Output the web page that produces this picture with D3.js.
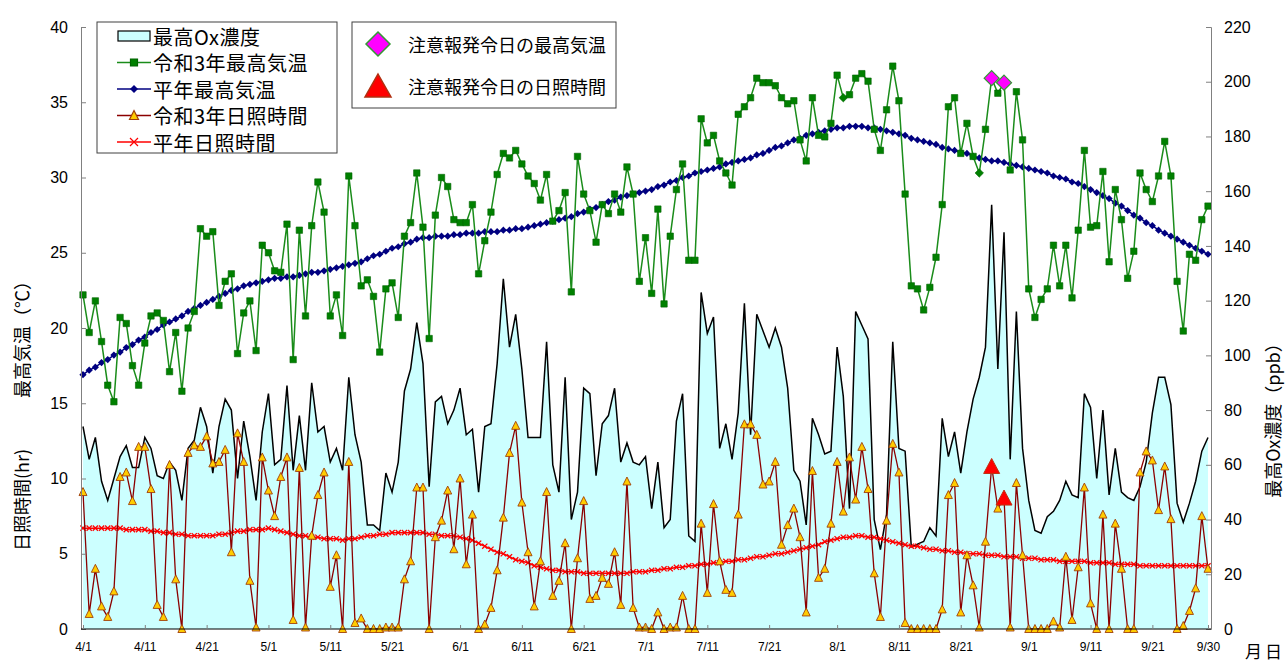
<!DOCTYPE html>
<html>
<head>
<meta charset="utf-8">
<script src="https://cdn.jsdelivr.net/npm/d3@7"></script>
<style>
  body { margin: 0; background: #fff; }
  text { font-family: "Liberation Sans", Arial, sans-serif; fill: #000; }
  .jp { font-family: "Noto Sans CJK JP", sans-serif; }
</style>
</head>
<body>
<div id="chart"></div>
<script>
// 4/1 .. 9/30 (183 days)
const dates = d3.timeDay.range(new Date(2021, 3, 1), new Date(2021, 9, 1));
const tickDays = [0, 10, 20, 30, 40, 50, 61, 71, 81, 91, 101, 111, 122, 132, 142, 153, 163, 173, 182];
const tickLabels = ['4/1', '4/11', '4/21', '5/1', '5/11', '5/21', '6/1', '6/11', '6/21', '7/1',
    '7/11', '7/21', '8/1', '8/11', '8/21', '9/1', '9/11', '9/21', '9/30'];

// 最高Ox濃度 (ppb)
const oxMax = [
    74, 62, 70, 54, 47, 55, 63, 67, 59, 59,
    70, 66, 56, 55, 61, 58, 47, 66, 69, 81,
    74, 57, 74, 84, 80, 55, 76, 63, 47, 72,
    86, 60, 62, 89, 58, 78, 58, 90, 72, 74,
    61, 66, 58, 92, 71, 61, 38, 38, 36, 57,
    50, 61, 87, 95, 112, 97, 52, 83, 85, 75,
    80, 88, 71, 73, 50, 74, 75, 97, 128, 103,
    115, 95, 70, 70, 70, 105, 60, 50, 92, 40,
    50, 88, 86, 56, 75, 78, 88, 61, 68, 61,
    60, 63, 44, 61, 37, 40, 76, 86, 34, 32,
    123, 108, 114, 66, 75, 62, 79, 119, 71, 115,
    109, 103, 110, 103, 88, 58, 54, 38, 77, 71,
    64, 65, 103, 85, 44, 116, 111, 106, 40, 29,
    42, 105, 66, 65, 30, 31, 32, 37, 34, 77,
    63, 72, 57, 72, 84, 92, 103, 155, 95, 145,
    62, 116, 66, 47, 36, 35, 41, 43, 47, 54,
    49, 48, 86, 81, 55, 80, 49, 66, 50, 48,
    47, 52, 61, 79, 92, 92, 82, 46, 39, 46,
    54, 65, 70
];

// 令和3年最高気温 (℃)
const temp2021 = [
    22.2, 19.7, 21.8, 19.1, 16.2, 15.1, 20.7, 20.3, 17.5, 16.2,
    19.0, 20.8, 21.0, 20.5, 17.1, 19.7, 15.8, 20.0, 21.1, 26.6,
    26.1, 26.4, 21.5, 23.1, 23.6, 18.3, 21.0, 21.8, 18.5, 25.5,
    25.0, 23.8, 23.7, 26.9, 17.9, 26.5, 20.8, 26.8, 29.7, 27.7,
    20.8, 22.2, 19.5, 30.1, 26.8, 22.8, 23.2, 22.1, 18.4, 22.6,
    23.0, 20.7, 26.1, 27.0, 30.3, 26.7, 19.3, 27.5, 30.0, 29.4,
    27.2, 27.0, 27.0, 28.2, 23.6, 25.8, 27.7, 30.2, 31.6, 31.3,
    31.8, 30.9, 30.1, 29.6, 28.5, 30.2, 27.1, 27.8, 29.0, 22.4,
    31.4, 28.9, 27.8, 25.7, 28.2, 27.6, 28.9, 27.7, 30.7, 28.9,
    23.1, 26.0, 22.3, 27.9, 21.6, 26.1, 29.2, 30.9, 24.5, 24.5,
    33.9, 32.3, 32.8, 31.1, 30.3, 29.5, 34.2, 34.7, 35.3, 36.6,
    36.3, 36.3, 36.1, 35.3, 34.9, 35.1, 32.5, 31.1, 35.3, 32.8,
    32.7, 33.6, 36.8, 35.3, 35.5, 36.6, 36.9, 36.4, 33.2, 31.8,
    34.5, 37.4, 35.1, 28.9, 22.8, 22.6, 21.2, 22.7, 24.7, 28.2,
    34.7, 35.3, 31.6, 33.6, 31.4, 30.3, 33.2, 36.6, 35.6, 36.3,
    30.5, 35.7, 32.5, 22.6, 20.7, 21.9, 22.6, 25.5, 22.8, 25.5,
    22.0, 26.5, 31.8, 26.7, 26.8, 30.4, 24.4, 29.2, 27.2, 23.3,
    25.1, 30.3, 29.2, 28.4, 30.1, 32.4, 30.1, 23.1, 19.8, 24.9,
    24.5, 27.2, 28.1
];

// 平年最高気温 (℃)
const tempNormal = [
    16.9, 17.2, 17.4, 17.7, 17.9, 18.2, 18.4, 18.7, 18.9, 19.2,
    19.4, 19.7, 19.9, 20.2, 20.4, 20.6, 20.8, 21.1, 21.3, 21.5,
    21.7, 21.9, 22.1, 22.3, 22.5, 22.6, 22.8, 22.9, 23.0, 23.1,
    23.2, 23.3, 23.3, 23.4, 23.4, 23.5, 23.6, 23.7, 23.7, 23.8,
    23.9, 24.0, 24.1, 24.2, 24.3, 24.4, 24.6, 24.8, 24.9, 25.1,
    25.3, 25.4, 25.6, 25.7, 25.9, 26.0, 26.0, 26.1, 26.1, 26.1,
    26.2, 26.2, 26.3, 26.3, 26.3, 26.4, 26.4, 26.4, 26.5, 26.5,
    26.6, 26.6, 26.7, 26.8, 26.9, 27.0, 27.1, 27.2, 27.3, 27.4,
    27.6, 27.7, 27.9, 28.0, 28.2, 28.4, 28.5, 28.7, 28.8, 28.9,
    29.0, 29.1, 29.2, 29.4, 29.5, 29.7, 29.8, 30.0, 30.1, 30.3,
    30.4, 30.5, 30.6, 30.7, 30.9, 31.0, 31.1, 31.2, 31.3, 31.5,
    31.6, 31.8, 32.0, 32.1, 32.3, 32.5, 32.6, 32.8, 32.9, 33.0,
    33.1, 33.2, 33.3, 33.3, 33.4, 33.4, 33.4, 33.3, 33.3, 33.2,
    33.1, 33.0, 32.9, 32.8, 32.6, 32.5, 32.4, 32.3, 32.2, 32.0,
    31.9, 31.8, 31.7, 31.6, 31.4, 31.3, 31.2, 31.1, 31.1, 31.0,
    30.9, 30.8, 30.7, 30.6, 30.5, 30.4, 30.3, 30.1, 30.0, 29.9,
    29.7, 29.6, 29.4, 29.2, 29.0, 28.8, 28.6, 28.3, 28.1, 27.8,
    27.5, 27.3, 27.0, 26.8, 26.5, 26.3, 26.1, 25.9, 25.7, 25.5,
    25.3, 25.1, 24.9
];

// 令和3年日照時間 (hr)
const sun2021 = [
    9.1, 1.0, 4.0, 1.5, 0.8, 2.5, 10.1, 10.4, 8.5, 12.1,
    12.1, 9.3, 1.6, 0.8, 10.9, 3.3, 0, 11.7, 12.2, 12.1,
    12.8, 11.0, 11.1, 11.9, 5.1, 13.0, 11.1, 3.2, 0.1, 11.4,
    9.2, 7.5, 10.1, 11.4, 0.6, 10.7, 0.1, 6.2, 8.9, 10.4,
    2.8, 4.9, 0, 11.1, 0.4, 0.7, 0, 0, 0, 0.1,
    0.1, 0.1, 3.3, 4.5, 9.4, 9.4, 0, 6.1, 7.2, 9.2,
    5.3, 10.0, 4.3, 7.6, 0, 0.3, 1.4, 3.9, 7.4, 11.7,
    13.5, 8.4, 5.1, 1.5, 4.5, 9.1, 2.2, 3.2, 5.7, 0,
    4.7, 8.5, 2.0, 2.2, 3.4, 3.0, 5.1, 1.6, 9.8, 1.4,
    0.1, 0.1, 0, 1.1, 0, 0.1, 0.1, 2.2, 0, 0,
    7.0, 2.4, 8.3, 4.5, 2.6, 2.4, 7.6, 13.6, 13.6, 12.9,
    9.6, 9.8, 11.1, 5.6, 6.9, 8.0, 6.1, 1.1, 10.5, 3.4,
    4.0, 7.0, 11.1, 7.8, 11.4, 8.6, 12.1, 9.3, 3.7, 0.8,
    7.2, 12.3, 10.4, 0.4, 0, 0, 0, 0, 0, 1.3,
    8.9, 9.7, 1.1, 4.9, 2.9, 0.1, 5.8, 10.8, 8.0, 8.7,
    0.1, 9.7, 4.9, 0, 0, 0, 0, 0.5, 0.1, 4.8,
    0.6, 4.1, 9.4, 1.7, 0, 7.6, 0, 7.0, 4.0, 0,
    0, 10.4, 11.8, 11.2, 7.9, 10.8, 7.3, 0, 0.2, 1.2,
    2.7, 7.5, 4.0
];

// 平年日照時間 (hr)
const sunNormal = [
    6.7, 6.7, 6.7, 6.7, 6.7, 6.7, 6.7, 6.6, 6.6, 6.6,
    6.6, 6.5, 6.5, 6.4, 6.4, 6.3, 6.3, 6.2, 6.2, 6.2,
    6.2, 6.2, 6.3, 6.3, 6.4, 6.5, 6.5, 6.6, 6.6, 6.6,
    6.7, 6.6, 6.5, 6.4, 6.3, 6.2, 6.2, 6.1, 6.1, 6.0,
    6.0, 6.0, 5.9, 6.0, 6.0, 6.1, 6.2, 6.2, 6.3, 6.3,
    6.4, 6.4, 6.4, 6.4, 6.4, 6.4, 6.3, 6.3, 6.2, 6.2,
    6.2, 6.1, 6.0, 5.9, 5.7, 5.5, 5.3, 5.1, 5.0, 4.8,
    4.6, 4.5, 4.4, 4.2, 4.1, 4.0, 3.9, 3.9, 3.8, 3.8,
    3.8, 3.7, 3.7, 3.7, 3.7, 3.7, 3.7, 3.7, 3.7, 3.8,
    3.8, 3.8, 3.9, 3.9, 4.0, 4.0, 4.1, 4.1, 4.2, 4.2,
    4.3, 4.3, 4.4, 4.4, 4.5, 4.5, 4.6, 4.6, 4.7, 4.8,
    4.8, 4.9, 5.0, 5.0, 5.1, 5.2, 5.3, 5.4, 5.5, 5.6,
    5.8, 5.9, 6.0, 6.1, 6.1, 6.2, 6.2, 6.1, 6.1, 6.0,
    5.9, 5.8, 5.7, 5.6, 5.5, 5.5, 5.4, 5.3, 5.3, 5.2,
    5.2, 5.1, 5.1, 5.0, 5.0, 5.0, 4.9, 4.9, 4.9, 4.8,
    4.8, 4.8, 4.7, 4.7, 4.7, 4.6, 4.6, 4.6, 4.5, 4.5,
    4.5, 4.5, 4.5, 4.4, 4.4, 4.4, 4.4, 4.3, 4.3, 4.3,
    4.3, 4.2, 4.2, 4.2, 4.2, 4.2, 4.2, 4.2, 4.2, 4.2,
    4.2, 4.2, 4.2
];

// 注意報発令日 (day index)
const alertDays = [147, 149];
const greenDiamondDays = [123, 145];

const width = 1287, height = 664;

const svg = d3.select('#chart')
    .append('svg')
    .attr('width', width)
    .attr('height', height);

const x = d3.scaleLinear().domain([0, dates.length - 1]).range([83, 1208]);
const yL = d3.scaleLinear().domain([0, 40]).range([629, 27]);
const yR = d3.scaleLinear().domain([0, 220]).range([629, 27]);

// marker shapes
const diamond = (r) => `M0,${-r}L${r},0L0,${r}L${-r},0Z`;
const triangle = (w, h) => `M0,${-h / 2 - 1}L${w / 2},${h / 2}L${-w / 2},${h / 2}Z`;
const cross = (r) => `M${-r},${-r}L${r},${r}M${-r},${r}L${r},${-r}`;

// Ox area
const area = d3.area()
    .x((d, i) => x(i))
    .y0(yR(0))
    .y1(d => yR(d));
svg.append('path')
    .datum(oxMax)
    .attr('d', area)
    .attr('fill', '#ccffff');
svg.append('path')
    .datum(oxMax)
    .attr('d', d3.line().x((d, i) => x(i)).y(d => yR(d)))
    .attr('fill', 'none')
    .attr('stroke', '#000')
    .attr('stroke-width', 1.5);

const lineL = d3.line().x((d, i) => x(i)).y(d => yL(d));

// 平年日照時間
svg.append('path').datum(sunNormal).attr('d', lineL)
    .attr('fill', 'none').attr('stroke', '#ff0000').attr('stroke-width', 1.5);
svg.append('g').selectAll('path').data(sunNormal).enter().append('path')
    .attr('d', cross(2.6))
    .attr('transform', (d, i) => `translate(${x(i)},${yL(d)})`)
    .attr('stroke', '#ff0000').attr('stroke-width', 1.3).attr('fill', 'none');

// 令和3年日照時間
svg.append('path').datum(sun2021).attr('d', lineL)
    .attr('fill', 'none').attr('stroke', '#8b0000').attr('stroke-width', 1.3);
svg.append('g').selectAll('path').data(sun2021).enter().append('path')
    .attr('d', triangle(8, 7))
    .attr('transform', (d, i) => `translate(${x(i)},${yL(d)})`)
    .attr('fill', '#ffcc00').attr('stroke', '#a0400a').attr('stroke-width', 0.9);

// 平年最高気温
svg.append('path').datum(tempNormal).attr('d', lineL)
    .attr('fill', 'none').attr('stroke', '#000080').attr('stroke-width', 1.5);
svg.append('g').selectAll('path').data(tempNormal).enter().append('path')
    .attr('d', diamond(3.6))
    .attr('transform', (d, i) => `translate(${x(i)},${yL(d)})`)
    .attr('fill', '#000080');

// 令和3年最高気温
svg.append('path').datum(temp2021).attr('d', lineL)
    .attr('fill', 'none').attr('stroke', '#1a8c1a').attr('stroke-width', 1.5);
svg.append('g').selectAll('path').data(temp2021).enter().append('path')
    .attr('d', (d, i) => greenDiamondDays.includes(i)
        ? diamond(4.2)
        : 'M-3.2,-3.2H3.2V3.2H-3.2Z')
    .attr('transform', (d, i) => `translate(${x(i)},${yL(d)})`)
    .attr('fill', '#008000').attr('stroke', '#006400').attr('stroke-width', 0.6);

// 注意報発令日
svg.append('g').selectAll('path').data(alertDays).enter().append('path')
    .attr('d', diamond(7.5))
    .attr('transform', d => `translate(${x(d)},${yL(temp2021[d])})`)
    .attr('fill', '#ff00ff').attr('stroke', '#339933').attr('stroke-width', 1.2);
svg.append('g').selectAll('path').data(alertDays).enter().append('path')
    .attr('d', triangle(16, 14))
    .attr('transform', d => `translate(${x(d)},${yL(sun2021[d])})`)
    .attr('fill', '#ff0000').attr('stroke', '#c03010').attr('stroke-width', 1);

// axes
const leftAxis = svg.append('g')
    .attr('transform', 'translate(81,0)')
    .call(d3.axisLeft(yL).tickValues(d3.range(0, 41, 5)).tickSize(-5).tickPadding(13));
const rightAxis = svg.append('g')
    .attr('transform', 'translate(1211,0)')
    .call(d3.axisRight(yR).tickValues(d3.range(0, 221, 20)).tickSize(-5).tickPadding(13));
[leftAxis, rightAxis].forEach(g => {
    g.select('.domain').attr('stroke', '#808080');
    g.selectAll('.tick line').attr('stroke', '#808080');
    g.selectAll('text').style('font-size', '16px').attr('fill', '#111');
});

const bottomAxis = svg.append('g')
    .attr('transform', 'translate(0,629)')
    .call(d3.axisBottom(x).tickValues(tickDays)
        .tickFormat((d, i) => tickLabels[i]).tickSize(-4).tickPadding(13));
bottomAxis.select('.domain').attr('d', 'M81,0H1211').attr('stroke', '#000').attr('stroke-width', 1.2);
bottomAxis.selectAll('.tick line').attr('stroke', '#808080');
bottomAxis.selectAll('text').style('font-size', '12px').attr('fill', '#444');

// axis titles
svg.append('text').attr('class', 'jp')
    .attr('transform', 'translate(21,335) rotate(-90)')
    .attr('text-anchor', 'middle').attr('dominant-baseline', 'central')
    .style('font-size', '18px').text('最高気温（℃）');
svg.append('text').attr('class', 'jp')
    .attr('transform', 'translate(21,500) rotate(-90)')
    .attr('text-anchor', 'middle').attr('dominant-baseline', 'central')
    .style('font-size', '18px').text('日照時間(hr)');
svg.append('text').attr('class', 'jp')
    .attr('transform', 'translate(1272,416) rotate(-90)')
    .attr('text-anchor', 'middle').attr('dominant-baseline', 'central')
    .style('font-size', '18px').text('最高Ox濃度（ppb）');
svg.append('text').attr('class', 'jp')
    .attr('x', 1265).attr('y', 650).attr('text-anchor', 'middle')
    .attr('dominant-baseline', 'central')
    .style('font-size', '17px').style('letter-spacing', '3px').text('月日');

// legend 1
const legend1 = svg.append('g');
legend1.append('rect')
    .attr('x', 97).attr('y', 22).attr('width', 240).attr('height', 131)
    .attr('fill', '#fff').attr('stroke', '#404040').attr('stroke-width', 1);
const legItems = [
    { label: '最高Ox濃度', type: 'area' },
    { label: '令和3年最高気温', type: 'line', color: '#1a8c1a', marker: 'M-3.5,-3.5H3.5V3.5H-3.5Z', mfill: '#008000', mstroke: '#006400' },
    { label: '平年最高気温', type: 'line', color: '#000080', marker: diamond(4), mfill: '#000080', mstroke: 'none' },
    { label: '令和3年日照時間', type: 'line', color: '#8b0000', marker: triangle(9, 8), mfill: '#ffcc00', mstroke: '#a0400a' },
    { label: '平年日照時間', type: 'line', color: '#ff0000', marker: cross(4), mfill: 'none', mstroke: '#ff0000' }
];
const leg = legend1.selectAll('g.item').data(legItems).enter().append('g')
    .attr('class', 'item')
    .attr('transform', (d, i) => `translate(0,${36 + i * 26.5})`);
leg.filter(d => d.type === 'area').append('rect')
    .attr('x', 118).attr('y', -5).attr('width', 32).attr('height', 10)
    .attr('fill', '#ccffff').attr('stroke', '#000').attr('stroke-width', 1.2);
leg.filter(d => d.type === 'line').append('line')
    .attr('x1', 117).attr('x2', 151).attr('y1', 0).attr('y2', 0)
    .attr('stroke', d => d.color).attr('stroke-width', 1.5);
leg.filter(d => d.type === 'line').append('path')
    .attr('d', d => d.marker)
    .attr('transform', 'translate(134,0)')
    .attr('fill', d => d.mfill).attr('stroke', d => d.mstroke).attr('stroke-width', 1.2);
leg.append('text').attr('class', 'jp')
    .attr('x', 153).attr('y', 0).attr('dominant-baseline', 'central')
    .style('font-size', '20px').style('letter-spacing', '0.5px').text(d => d.label);

// legend 2
const legend2 = svg.append('g');
legend2.append('rect')
    .attr('x', 352).attr('y', 22).attr('width', 264).attr('height', 86)
    .attr('fill', '#fff').attr('stroke', '#404040').attr('stroke-width', 1);
legend2.append('path')
    .attr('d', diamond(12)).attr('transform', 'translate(378,44)')
    .attr('fill', '#ff00ff').attr('stroke', '#339933').attr('stroke-width', 1.5);
legend2.append('path')
    .attr('d', triangle(26, 22)).attr('transform', 'translate(378,86)')
    .attr('fill', '#ff0000').attr('stroke', '#b03010').attr('stroke-width', 1.5);
legend2.selectAll('text.l2').data(['注意報発令日の最高気温', '注意報発令日の日照時間']).enter()
    .append('text').attr('class', 'jp l2')
    .attr('x', 408).attr('y', (d, i) => 44 + i * 42).attr('dominant-baseline', 'central')
    .style('font-size', '18px').text(d => d);
</script>
</body>
</html>
